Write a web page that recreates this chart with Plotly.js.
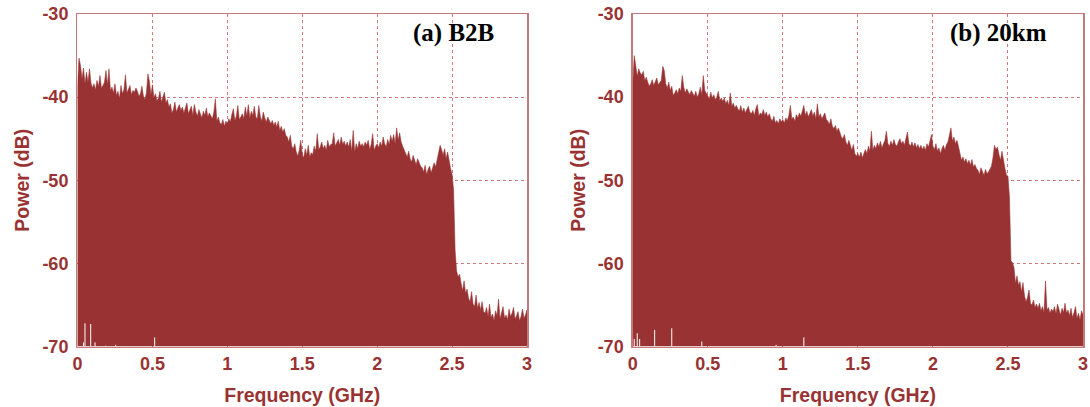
<!DOCTYPE html>
<html>
<head>
<meta charset="utf-8">
<script src="https://cdn.plot.ly/plotly-3.0.1.min.js"></script>
<style>
  html, body { margin: 0; padding: 0; background: #fff; }
  #chart { width: 1090px; height: 407px; }
</style>
</head>
<body>
<div id="chart"></div>
<script>
// Frequency grid in GHz, 0.01 GHz per bin from 0 to 3
const freqStep = 0.01;
const binCount = 301;

// Power spectrum, back-to-back (dB)
const powerB2B = [
  -38.6, -35.3, -36.2, -37.8, -36.5, -38.4, -37.0, -38.2, -36.6, -38.3,
  -38.9, -38.4, -39.1, -38.0, -38.7, -37.4, -38.9, -38.6, -38.2, -36.8,
  -38.5, -36.6, -39.2, -38.8, -39.5, -38.4, -39.8, -39.3, -40.2, -38.6,
  -39.6, -39.1, -37.3, -39.5, -39.0, -38.6, -39.7, -39.2, -39.4, -38.9,
  -39.3, -39.9, -39.6, -38.7, -39.9, -40.3, -39.5, -37.2, -38.1, -39.7,
  -38.5, -40.1, -39.6, -40.4, -40.2, -39.3, -40.6, -40.1, -39.4, -40.7,
  -40.3, -41.2, -40.8, -41.9, -41.5, -40.6, -41.8, -41.3, -40.9, -41.6,
  -41.2, -41.9, -41.4, -40.7, -42.0, -41.6, -41.1, -42.2, -40.9, -41.8,
  -42.3, -41.5, -42.1, -42.5, -41.7, -42.2, -41.3, -42.4, -41.9, -42.3,
  -42.6, -41.8, -40.2, -42.9, -42.4, -43.1, -43.3, -42.7, -43.5, -42.9,
  -43.2, -42.6, -43.0, -42.1, -41.4, -42.8, -42.3, -41.0, -42.7, -42.4,
  -42.0, -42.6, -41.2, -42.3, -40.9, -42.5, -41.7, -42.2, -41.1, -42.4,
  -42.6, -41.0, -42.3, -42.9, -41.8, -42.5, -43.0, -42.4, -42.9, -43.2,
  -42.8, -43.4, -43.0, -43.6, -42.9, -44.0, -43.5, -44.2, -43.8, -44.6,
  -44.8, -45.4, -44.6, -45.9, -46.2, -45.6, -46.6, -47.1, -46.4, -45.2,
  -46.9, -47.3, -46.2, -47.0, -45.8, -47.2, -46.7, -46.9, -45.9, -46.5,
  -44.4, -46.3, -46.0, -45.4, -46.2, -45.8, -46.4, -45.2, -46.0, -45.7,
  -45.6, -44.3, -45.9, -45.5, -45.1, -45.8, -44.8, -45.7, -45.3, -45.9,
  -45.4, -46.0, -45.1, -46.5, -44.0, -46.6, -45.6, -46.2, -45.3, -45.9,
  -45.6, -46.0, -45.4, -45.8, -45.2, -46.3, -45.7, -44.4, -46.4, -45.9,
  -45.6, -46.1, -45.4, -45.9, -44.8, -45.6, -46.0, -45.1, -45.7, -44.6,
  -45.3, -44.5, -45.6, -43.7, -45.2, -44.3, -45.4, -45.9, -46.3, -46.8,
  -47.2, -46.5, -47.4, -47.8, -47.0, -47.6, -48.1, -47.4, -48.0, -48.3,
  -48.5, -49.0, -48.2, -49.3, -48.7, -48.3, -49.1, -48.6, -47.9, -48.4,
  -47.6, -46.8, -45.8, -46.3, -47.0, -46.2, -47.4, -46.6, -47.8, -48.6,
  -49.3, -51.2, -58.4, -60.9, -61.6, -61.3, -62.4, -63.3, -62.1, -63.6,
  -63.1, -64.2, -64.6, -63.4, -64.9, -65.2, -63.8, -65.4, -64.7, -65.6,
  -64.6, -65.8, -66.0, -65.3, -66.4, -64.9, -66.5, -66.1, -66.9, -65.7,
  -66.3, -64.3, -66.7, -66.0, -65.2, -66.6, -66.2, -66.8, -65.5, -66.4,
  -66.0, -65.3, -66.7, -66.3, -65.8, -66.9, -66.4, -65.5, -66.6, -66.2, -65.6
];

// Power spectrum after 20 km of fibre (dB)
const power20km = [
  -38.3, -35.0, -36.4, -37.5, -36.6, -37.1, -37.3, -36.9, -38.0, -37.6,
  -38.2, -38.7, -38.4, -37.9, -38.6, -38.1, -37.7, -38.5, -38.3, -38.0,
  -36.3, -36.8, -38.4, -38.9, -38.2, -39.2, -38.7, -39.8, -39.5, -39.1,
  -39.6, -38.9, -39.3, -37.4, -38.8, -39.5, -39.0, -39.4, -39.7, -39.2,
  -39.5, -39.9, -39.3, -40.0, -39.6, -38.8, -39.7, -37.4, -39.2, -39.6,
  -39.8, -40.2, -39.4, -40.1, -39.7, -40.3, -40.0, -39.3, -40.4, -40.1,
  -40.5, -40.1, -40.8, -40.4, -41.0, -39.5, -41.1, -40.7, -41.3, -41.0,
  -41.4, -41.7, -41.0, -41.8, -41.3, -41.9, -41.5, -41.1, -41.8, -42.0,
  -41.6, -42.2, -41.4, -40.9, -42.3, -41.9, -42.1, -41.5, -42.2, -41.8,
  -42.4, -42.0, -42.6, -42.9, -42.3, -43.1, -42.8, -43.2, -42.6, -43.0,
  -42.7, -43.1, -42.5, -42.8, -42.2, -41.0, -42.6, -42.4, -42.9, -42.1,
  -42.5, -41.9, -42.3, -41.6, -41.0, -42.2, -41.7, -42.4, -42.0, -41.5,
  -42.3, -41.8, -42.6, -40.8, -42.4, -42.0, -42.6, -42.3, -41.9, -42.7,
  -42.9, -43.3, -42.6, -43.5, -43.8, -43.4, -44.1, -43.7, -44.3, -44.8,
  -45.0, -44.5, -45.4, -45.8, -45.2, -46.0, -46.4, -45.7, -46.8, -47.1,
  -46.8, -47.2, -46.6, -47.3, -46.9, -46.3, -46.8, -45.9, -46.5, -44.1,
  -46.4, -45.8, -46.2, -45.5, -46.0, -45.3, -46.1, -45.7, -45.2, -44.1,
  -45.6, -45.9, -45.3, -45.8, -45.1, -45.7, -45.9, -45.4, -45.0, -45.6,
  -45.3, -45.8, -44.9, -44.2, -45.6, -45.9, -45.4, -46.0, -45.5, -46.1,
  -45.7, -46.2, -45.8, -46.3, -45.9, -46.4, -45.6, -46.0, -45.3, -44.5,
  -45.9, -46.3, -45.6, -46.5, -46.1, -46.8, -46.2, -45.8, -46.4, -45.7,
  -45.4, -44.6, -43.7, -45.3, -44.8, -45.6, -45.2, -45.9, -46.7, -47.6,
  -47.2, -47.8, -47.4, -48.0, -47.6, -48.2, -47.5, -48.4, -48.1, -48.6,
  -48.8, -49.3, -48.5, -49.1, -49.4, -48.7, -49.2, -49.0, -48.6, -48.3,
  -47.3, -45.8, -46.3, -46.0, -46.9, -47.6, -46.5, -47.9, -48.6, -49.4,
  -49.5, -52.1, -59.7, -59.9, -60.5, -62.4, -61.5, -62.6, -62.2, -63.4,
  -62.3, -63.9, -64.6, -64.1, -63.2, -64.8, -65.0, -64.4, -65.3, -64.9,
  -65.4, -64.8, -65.7, -65.2, -65.9, -62.1, -65.6, -65.3, -66.0, -65.5,
  -65.8, -65.2, -66.1, -64.9, -65.7, -66.2, -65.4, -65.9, -64.8, -66.0,
  -65.6, -66.3, -65.4, -66.5, -65.9, -65.2, -66.6, -66.0, -66.8, -65.7, -66.2
];

// Empty bins near the floor (white slivers at the bottom of the fill)
const gapFreqB2B = [0.04, 0.05, 0.088, 0.117, 0.188, 0.255, 0.515];
const gapTopB2B  = [-69.5, -67.2, -67.3, -69.5, -69.9, -69.8, -68.9];
const gapFreq20km = [0.01, 0.03, 0.046, 0.146, 0.26, 0.46, 0.955, 1.14];
const gapTop20km  = [-69.1, -68.4, -69.1, -68.0, -67.8, -69.4, -69.8, -68.9];

// Axis scales and labels
const freqRange = [0, 3];
const powerRange = [-70, -30];
const freqTicks = [0, 0.5, 1, 1.5, 2, 2.5, 3];
const freqTickText = ['0', '0.5', '1', '1.5', '2', '2.5', '3'];
const powerTicks = [-70, -60, -50, -40, -30];
const powerTickText = ['-70', '-60', '-50', '-40', '-30'];
const panelLabels = ['(a) B2B', '(b) 20km'];
const xTitle = 'Frequency (GHz)';
const yTitle = 'Power (dB)';

const freqs = Array.from({ length: binCount }, (_, i) => +(i * freqStep).toFixed(2));
const floor = powerRange[0];

const fillColor = '#993333';
const frameColor = '#c47a7a';
const gridColor = '#d27878';
const textColor = '#993333';

function spectrumTrace(power, xa, ya) {
  return {
    type: 'scatter', mode: 'lines', xaxis: xa, yaxis: ya,
    x: [freqs[0]].concat(freqs, [freqs[freqs.length - 1]]),
    y: [floor].concat(power, [floor]),
    fill: 'toself', fillcolor: fillColor,
    line: { color: 'rgba(153,51,51,0.55)', width: 1 },
    hoverinfo: 'skip', showlegend: false
  };
}

// White vertical slivers drawn as line segments from the floor up
function gapTrace(fx, top, xa, ya) {
  const x = [], y = [];
  fx.forEach((f, i) => { x.push(f, f, null); y.push(floor, top[i], null); });
  return {
    type: 'scatter', mode: 'lines', xaxis: xa, yaxis: ya, x: x, y: y,
    line: { color: '#ffffff', width: 1 },
    hoverinfo: 'skip', showlegend: false
  };
}

const traces = [
  spectrumTrace(powerB2B, 'x', 'y'),
  gapTrace(gapFreqB2B, gapTopB2B, 'x', 'y'),
  spectrumTrace(power20km, 'x2', 'y2'),
  gapTrace(gapFreq20km, gapTop20km, 'x2', 'y2')
];

const sans = 'Arial, "Liberation Sans", sans-serif';
const tickFont = { family: sans, size: 18, color: textColor, weight: 'bold' };
const titleFont = { family: sans, size: 19.5, color: textColor, weight: 'bold' };

function xAxis(domain, anchor) {
  return {
    domain: domain, anchor: anchor, range: freqRange,
    tickmode: 'array', tickvals: freqTicks, ticktext: freqTickText,
    showline: true, linecolor: frameColor, linewidth: 1.5, mirror: true,
    showgrid: true, gridcolor: gridColor, griddash: 'dot', gridwidth: 1,
    zeroline: false, ticks: '', ticklen: 0,
    tickfont: tickFont,
    title: { text: xTitle, font: titleFont, standoff: 15 }
  };
}
function yAxis(anchor) {
  return {
    domain: [0.1486, 0.9656], anchor: anchor, range: powerRange,
    tickmode: 'array', tickvals: powerTicks, ticktext: powerTickText,
    showline: true, linecolor: frameColor, linewidth: 1.5, mirror: true,
    showgrid: true, gridcolor: gridColor, griddash: 'dot', gridwidth: 1,
    zeroline: false, ticks: '', ticklen: 0, ticklabelstandoff: 4,
    tickfont: tickFont,
    title: { text: yTitle, font: titleFont, standoff: 7 }
  };
}

const serif = '"Times New Roman", "Liberation Serif", serif';
const layout = {
  width: 1090, height: 407,
  margin: { l: 0, r: 0, t: 0, b: 0 },
  paper_bgcolor: '#ffffff', plot_bgcolor: '#ffffff',
  xaxis: xAxis([0.0711, 0.4835], 'y'),
  yaxis: yAxis('x'),
  xaxis2: xAxis([0.5805, 0.9936], 'y2'),
  yaxis2: yAxis('x2'),
  annotations: [
    { text: '<b>' + panelLabels[0] + '</b>', xref: 'paper', yref: 'paper',
      x: 0.4156, y: 0.919, xanchor: 'center', yanchor: 'middle', showarrow: false,
      font: { family: serif, size: 25, color: '#000' } },
    { text: '<b>' + panelLabels[1] + '</b>', xref: 'paper', yref: 'paper',
      x: 0.9156, y: 0.919, xanchor: 'center', yanchor: 'middle', showarrow: false,
      font: { family: serif, size: 25, color: '#000' } }
  ]
};

Plotly.newPlot('chart', traces, layout, { staticPlot: true, displayModeBar: false });
</script>
</body>
</html>
